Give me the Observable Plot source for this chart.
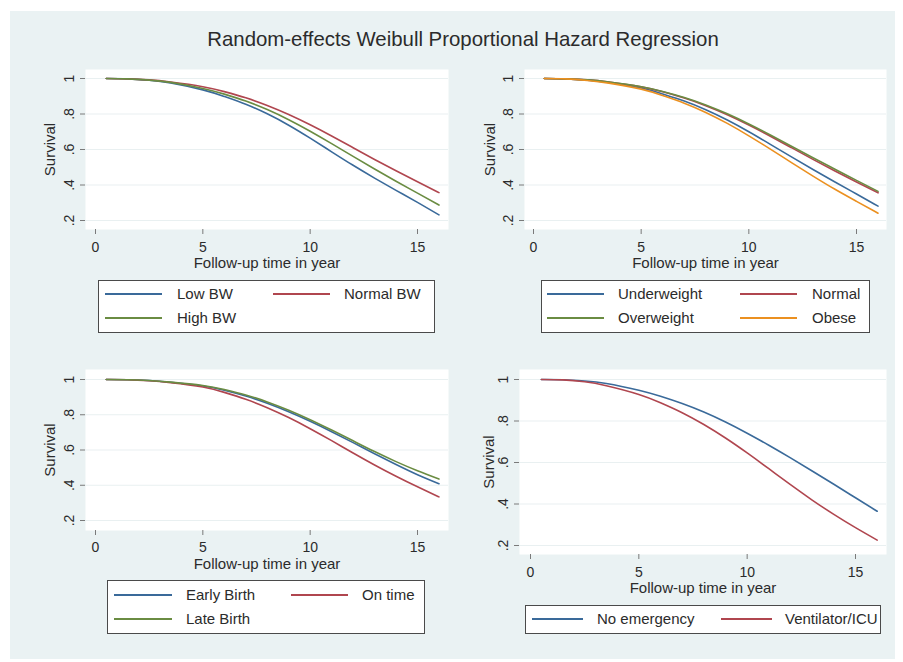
<!DOCTYPE html>
<html>
<head>
<meta charset="utf-8">
<script src="https://cdn.jsdelivr.net/npm/d3@7"></script>
<script src="https://cdn.jsdelivr.net/npm/@observablehq/plot@0.6"></script>
<style>
  html, body { margin: 0; padding: 0; background: #ffffff; }
  #root { position: relative; width: 903px; height: 662px; overflow: hidden; font-family: "Liberation Sans", Arial, sans-serif; color: #2b2b2b; }
  #bg { position: absolute; left: 10px; top: 11px; width: 885px; height: 648px; background: #EAF2F3; }
  .title { position: absolute; left: 63px; width: 800px; top: 29px; text-align: center; font-size: 20.4px; line-height: 20px; color: #2b2b2b; }
  .panel { position: absolute; }
  .legend { position: absolute; background: #ffffff; border: 1px solid #4a4a4a; box-sizing: border-box; }
  .key { position: absolute; height: 2px; }
  .ltext { position: absolute; font-size: 15px; line-height: 15px; color: #2b2b2b; white-space: nowrap; }
</style>
</head>
<body>
<div id="root">
  <div id="bg"></div>
  <div class="title">Random-effects Weibull Proportional Hazard Regression</div>
</div>
<script>
// ---- data ----
const times = [0.5, 1.5, 2.5, 3.5, 5, 6, 7, 8, 9, 10, 11, 12, 13, 14, 15, 16];
const xTicks = [0, 5, 10, 15];
const yTicks = [0.2, 0.4, 0.6, 0.8, 1];
const xTitle = "Follow-up time in year";
const yTitle = "Survival";

// Panel 1: birth weight
const bwLabels = ["Low BW", "Normal BW", "High BW"];
const lowBW    = [1.000, 0.998, 0.990, 0.975, 0.936, 0.899, 0.855, 0.801, 0.737, 0.664, 0.587, 0.511, 0.439, 0.370, 0.302, 0.232];
const normalBW = [1.000, 0.998, 0.992, 0.980, 0.954, 0.926, 0.891, 0.848, 0.797, 0.739, 0.676, 0.610, 0.544, 0.480, 0.418, 0.357];
const highBW   = [1.000, 0.998, 0.991, 0.978, 0.944, 0.912, 0.873, 0.825, 0.768, 0.703, 0.633, 0.561, 0.490, 0.421, 0.354, 0.287];

// Panel 2: BMI
const bmiLabels = ["Underweight", "Normal", "Overweight", "Obese"];
const underweight = [1.000, 0.998, 0.991, 0.977, 0.946, 0.913, 0.873, 0.824, 0.766, 0.700, 0.629, 0.557, 0.486, 0.417, 0.349, 0.281];
const normalBMI   = [1.000, 0.998, 0.992, 0.980, 0.953, 0.925, 0.890, 0.847, 0.796, 0.738, 0.675, 0.609, 0.543, 0.479, 0.417, 0.356];
const overweight  = [1.000, 0.998, 0.992, 0.980, 0.954, 0.927, 0.893, 0.851, 0.801, 0.744, 0.682, 0.617, 0.552, 0.489, 0.426, 0.364];
const obese       = [1.000, 0.998, 0.989, 0.974, 0.940, 0.904, 0.861, 0.809, 0.747, 0.677, 0.602, 0.525, 0.449, 0.376, 0.308, 0.241];

// Panel 3: birth timing
const birthLabels = ["Early Birth", "On time", "Late Birth"];
const earlyBirth = [1.000, 0.999, 0.994, 0.984, 0.963, 0.939, 0.906, 0.865, 0.817, 0.763, 0.704, 0.642, 0.579, 0.518, 0.460, 0.409];
const onTime     = [1.000, 0.999, 0.993, 0.982, 0.957, 0.927, 0.888, 0.840, 0.784, 0.721, 0.653, 0.583, 0.515, 0.451, 0.391, 0.334];
const lateBirth  = [1.000, 0.999, 0.994, 0.985, 0.966, 0.943, 0.912, 0.873, 0.826, 0.772, 0.713, 0.652, 0.591, 0.534, 0.482, 0.435];

// Panel 4: emergency
const emLabels = ["No emergency", "Ventilator/ICU"];
const noEmergency   = [1.000, 0.999, 0.993, 0.981, 0.948, 0.919, 0.884, 0.843, 0.795, 0.741, 0.683, 0.622, 0.559, 0.495, 0.430, 0.365];
const ventilatorICU = [1.000, 0.998, 0.989, 0.970, 0.928, 0.888, 0.840, 0.783, 0.718, 0.646, 0.570, 0.493, 0.419, 0.350, 0.286, 0.226];

// ---- styles ----
const BLUE = "#3a6a9a", RED = "#b0464f", GREEN = "#6a8c42", ORANGE = "#eb9020";
const FONT = "'Liberation Sans', Arial, sans-serif";
const root = document.getElementById("root");

function rowsOf(labels, seriesList) {
  const rows = [];
  labels.forEach((lab, i) => times.forEach((t, j) => rows.push({group: lab, t, s: seriesList[i][j]})));
  return rows;
}

const fmtY = d => d === 1 ? "1" : d.toFixed(1).replace(/^0/, "");

function panel(cfg) {
  const rows = rowsOf(cfg.labels, cfg.series);
  const svg = Plot.plot({
    width: cfg.width, height: cfg.height,
    marginLeft: 65, marginRight: 8, marginTop: 14, marginBottom: cfg.height - 14 - cfg.plotH,
    style: {background: "transparent", fontFamily: FONT, fontSize: "14px", color: "#2b2b2b", overflow: "visible"},
    x: {domain: [0, 15], insetLeft: cfg.inL, insetRight: cfg.inR},
    y: {domain: [0.2, 1], insetTop: cfg.inT, insetBottom: cfg.inB},
    color: {domain: cfg.labels, range: cfg.colors},
    marks: [
      Plot.frame({fill: "white", stroke: "none"}),
      Plot.gridY(yTicks, {stroke: "#e9f0f1", strokeOpacity: 1, strokeWidth: 1.2}),
      Plot.axisX(xTicks, {tickSize: 5, tickPadding: cfg.tickPad, stroke: "#7a7a7a", fill: "#2b2b2b", fontSize: 14, label: null, line: true}),
      Plot.axisY(yTicks, {tickSize: 5, tickPadding: 7, tickRotate: -90, tickFormat: fmtY, stroke: "#7a7a7a", fill: "#2b2b2b", fontSize: 14, label: null, line: true}),
      Plot.line(rows, {x: "t", y: "s", z: "group", stroke: "group", strokeWidth: 1.6, curve: "natural"}),
      Plot.text([xTitle], {frameAnchor: "bottom", dy: cfg.xTitleDy, text: d => d, fontSize: 15, fill: "#2b2b2b", textAnchor: "middle", lineAnchor: "middle"}),
      Plot.text([yTitle], {frameAnchor: "left", dx: cfg.yTitleDx, rotate: -90, text: d => d, fontSize: 15, fill: "#2b2b2b", textAnchor: "middle", lineAnchor: "middle"})
    ]
  });
  const wrap = document.createElement("div");
  wrap.className = "panel";
  wrap.style.left = cfg.left + "px";
  wrap.style.top = cfg.top + "px";
  wrap.appendChild(svg);
  root.appendChild(wrap);
}

function legend(box, items) {
  const lg = document.createElement("div");
  lg.className = "legend";
  lg.style.left = box.x + "px"; lg.style.top = box.y + "px";
  lg.style.width = box.w + "px"; lg.style.height = box.h + "px";
  root.appendChild(lg);
  items.forEach(it => {
    const k = document.createElement("div");
    k.className = "key";
    k.style.left = it.k1 + "px"; k.style.width = (it.k2 - it.k1) + "px";
    k.style.top = (it.y - 1) + "px"; k.style.background = it.color;
    root.appendChild(k);
    const t = document.createElement("div");
    t.className = "ltext";
    t.textContent = it.label;
    t.style.left = it.tx + "px"; t.style.top = (it.y - 8) + "px";
    root.appendChild(t);
  });
}

// Panel 1
panel({left: 20, top: 55, width: 436, height: 220, plotH: 160, inL: 10, inR: 31, inT: 9, inB: 9, tickPad: 8,
  labels: bwLabels, series: [lowBW, normalBW, highBW], colors: [BLUE, RED, GREEN], xTitleDy: 34, yTitleDx: -35});
legend({x: 98, y: 280, w: 337, h: 53}, [
  {label: bwLabels[0], color: BLUE, k1: 105, k2: 162, tx: 177, y: 294},
  {label: bwLabels[1], color: RED, k1: 273, k2: 330, tx: 344, y: 294},
  {label: bwLabels[2], color: GREEN, k1: 105, k2: 162, tx: 177, y: 318}
]);

// Panel 2
panel({left: 459, top: 55, width: 435, height: 220, plotH: 160, inL: 9, inR: 30, inT: 9, inB: 9, tickPad: 8,
  labels: bmiLabels, series: [underweight, normalBMI, overweight, obese], colors: [BLUE, RED, GREEN, ORANGE], xTitleDy: 34, yTitleDx: -34});
legend({x: 541, y: 280, w: 329, h: 53}, [
  {label: bmiLabels[0], color: BLUE, k1: 547, k2: 604, tx: 618, y: 294},
  {label: bmiLabels[1], color: RED, k1: 740, k2: 797, tx: 812, y: 294},
  {label: bmiLabels[2], color: GREEN, k1: 547, k2: 604, tx: 618, y: 318},
  {label: bmiLabels[3], color: ORANGE, k1: 740, k2: 797, tx: 812, y: 318}
]);

// Panel 3
panel({left: 20, top: 355, width: 436, height: 221, plotH: 161, inL: 10, inR: 31, inT: 10, inB: 10, tickPad: 7,
  labels: birthLabels, series: [earlyBirth, onTime, lateBirth], colors: [BLUE, RED, GREEN], xTitleDy: 34, yTitleDx: -35});
legend({x: 107, y: 580, w: 318, h: 54}, [
  {label: birthLabels[0], color: BLUE, k1: 114, k2: 172, tx: 186, y: 595},
  {label: birthLabels[1], color: RED, k1: 291, k2: 348, tx: 362, y: 595},
  {label: birthLabels[2], color: GREEN, k1: 114, k2: 172, tx: 186, y: 619}
]);

// Panel 4
panel({left: 454, top: 355, width: 440, height: 245, plotH: 185, inL: 11, inR: 31, inT: 10, inB: 9, tickPad: 8,
  labels: emLabels, series: [noEmergency, ventilatorICU], colors: [BLUE, RED], xTitleDy: 34, yTitleDx: -30});
legend({x: 525, y: 605, w: 356, h: 29}, [
  {label: emLabels[0], color: BLUE, k1: 532, k2: 583, tx: 597, y: 619},
  {label: emLabels[1], color: RED, k1: 721, k2: 772, tx: 785, y: 619}
]);
</script>
</body>
</html>
